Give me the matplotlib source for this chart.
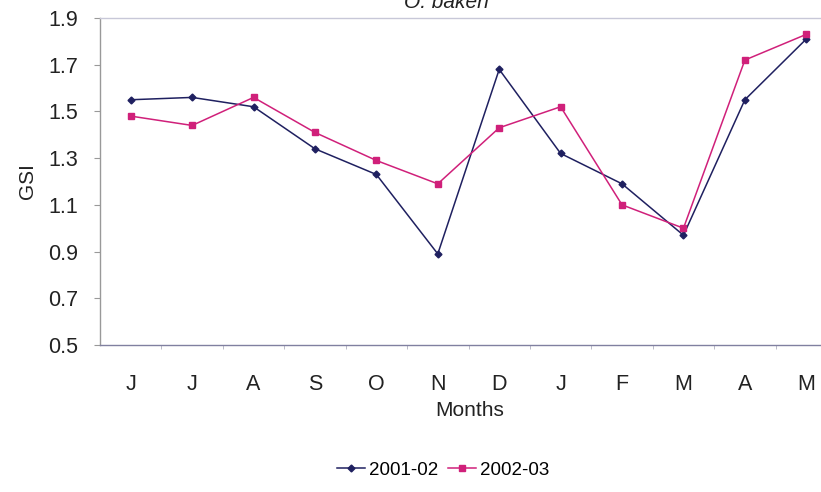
import matplotlib
matplotlib.use("Agg")
import matplotlib.pyplot as plt

months = ["J", "J", "A", "S", "O", "N", "D", "J", "F", "M", "A", "M"]
gsi_2001_02 = [1.55, 1.56, 1.52, 1.34, 1.23, 0.89, 1.68, 1.32, 1.19, 0.97, 1.55, 1.81]
gsi_2002_03 = [1.48, 1.44, 1.56, 1.41, 1.29, 1.19, 1.43, 1.52, 1.10, 1.00, 1.72, 1.83]
yticks = [0.5, 0.7, 0.9, 1.1, 1.3, 1.5, 1.7, 1.9]

plt.rcParams['font.family'] = ['Liberation Sans', 'DejaVu Sans']

fig = plt.figure(figsize=(8.21, 4.92), dpi=100)
ax = fig.add_axes([100/821, 1 - 345/492, 737/821, (345 - 18)/492])

x = list(range(len(months)))
l1, = ax.plot(x, gsi_2001_02, color="#1f2060", lw=1.1, marker="D", ms=3.5,
              label="2001-02")
l2, = ax.plot(x, gsi_2002_03, color="#d0207a", lw=1.1, marker="s", ms=5,
              label="2002-03")

ax.set_xlim(-0.5, 11.5)
ax.set_ylim(0.5, 1.9)
ax.set_yticks(yticks)
ax.set_yticklabels([f"{v:.1f}" for v in yticks], fontsize=15.5, color="#222222")
ax.set_xticks(x)
ax.set_xticklabels(months, fontsize=15.5, color="#222222")
ax.set_xticks([i + 0.5 for i in range(len(months))], minor=True)
ax.tick_params(axis="x", which="major", length=0, pad=21)
ax.tick_params(axis="x", which="minor", length=3, direction="out", color="#b0b0c0")
ax.tick_params(axis="y", length=4, direction="out", color="#999999", pad=12)

ax.spines["right"].set_visible(False)
ax.spines["top"].set_color("#c8c8d8")
ax.spines["left"].set_color("#999999")
ax.spines["bottom"].set_color("#8080a0")
for s in ax.spines.values():
    s.set_linewidth(1.0)

ax.set_ylabel("GSI", fontsize=15, color="#222222", labelpad=8)
fig.text(470/821, 1 - 410/492, "Months", fontsize=15, color="#222222",
         ha="center", va="center")
fig.text(446/821, 1 - 3/492, "O. bakeri", fontsize=15, style="italic",
         color="#222222", ha="center", va="center")

fig.legend(handles=[l1, l2], loc="center", bbox_to_anchor=(443/821, 1 - 470/492),
           ncol=2, frameon=False, fontsize=13.5, handlelength=1.5,
           columnspacing=0.5, handletextpad=0.2)

fig.savefig("out.png", dpi=100)
